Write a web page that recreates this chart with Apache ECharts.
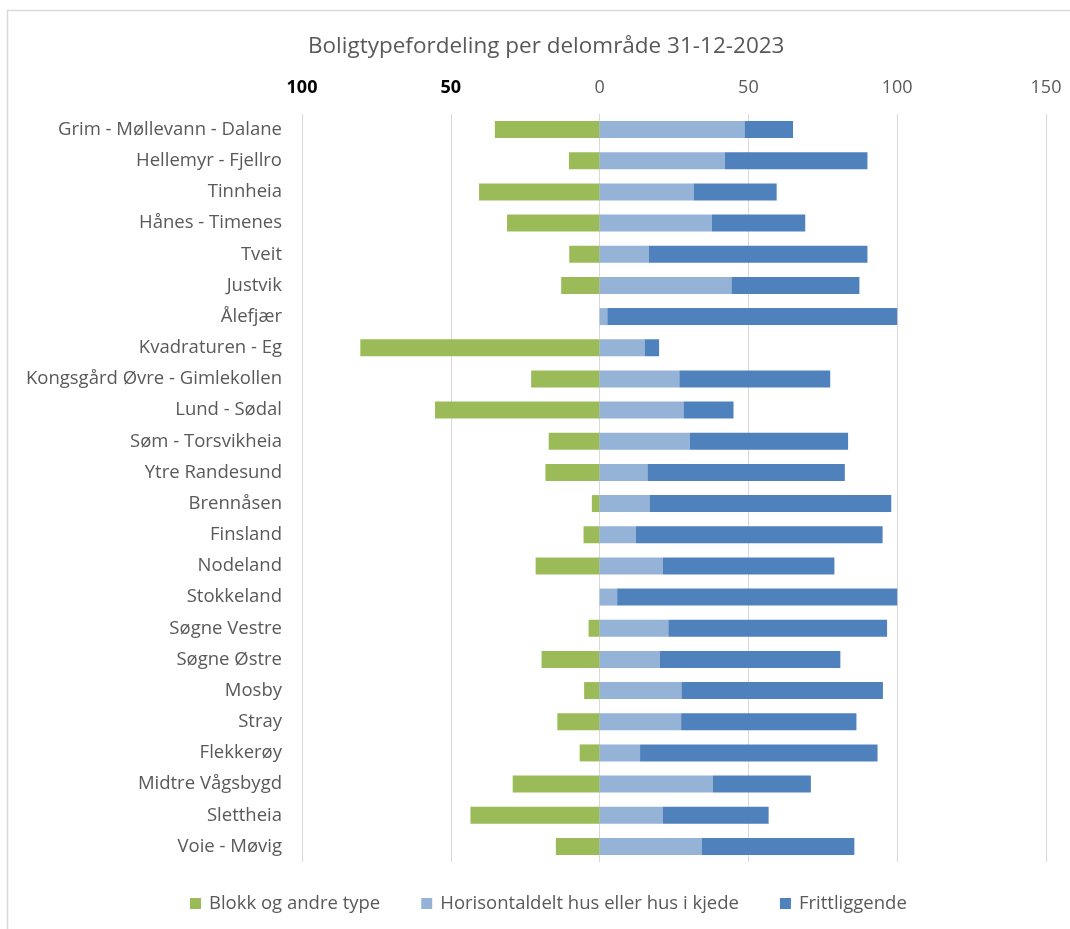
<!DOCTYPE html>
<html>
<head>
<meta charset="utf-8">
<script src="https://cdn.jsdelivr.net/npm/echarts@6/dist/echarts.min.js"></script>
<style>
html,body{margin:0;padding:0;background:#fff;}
#chart{width:1070px;height:929px;}
</style>
</head>
<body>
<div id="chart"></div>
<script>
const categories = [
  'Grim - Møllevann - Dalane', 'Hellemyr - Fjellro', 'Tinnheia', 'Hånes - Timenes',
  'Tveit', 'Justvik', 'Ålefjær', 'Kvadraturen - Eg', 'Kongsgård Øvre - Gimlekollen',
  'Lund - Sødal', 'Søm - Torsvikheia', 'Ytre Randesund', 'Brennåsen', 'Finsland',
  'Nodeland', 'Stokkeland', 'Søgne Vestre', 'Søgne Østre', 'Mosby', 'Stray',
  'Flekkerøy', 'Midtre Vågsbygd', 'Slettheia', 'Voie - Møvig'
];
const seriesNames = ['Blokk og andre type', 'Horisontaldelt hus eller hus i kjede', 'Frittliggende'];
// Blokk shown to the left of zero (negative values)
const blokk = [-35.2, -10.3, -40.5, -31.1, -10.2, -12.9, 0, -80.4, -23.0, -55.3, -17.1, -18.2,
  -2.6, -5.4, -21.5, 0, -3.7, -19.5, -5.2, -14.2, -6.7, -29.2, -43.4, -14.7];
const horisontal = [48.7, 42.1, 31.7, 37.7, 16.5, 44.3, 2.6, 15.1, 26.8, 28.2, 30.3, 16.1,
  16.8, 12.2, 21.3, 5.9, 23.1, 20.2, 27.5, 27.4, 13.6, 38.1, 21.3, 34.3];
const fritt = [16.3, 47.9, 27.8, 31.4, 73.5, 43.0, 97.4, 4.9, 50.7, 16.8, 53.2, 66.3,
  81.2, 82.9, 57.6, 94.1, 73.5, 60.7, 67.7, 58.9, 79.8, 32.9, 35.5, 51.3];
const xTicks = { min: -100, max: 150, interval: 50 };
const colors = ['#9BBB59', '#95B3D7', '#4F81BD'];

const FONT = 'Open Sans';
const chart = echarts.init(document.getElementById('chart'), null, { renderer: 'canvas' });
const mk = (name, data, color) => ({
  name, type: 'bar', stack: 'total', data, barWidth: 17,
  itemStyle: { color }, emphasis: { disabled: true }
});
chart.setOption({
  animation: false,
  backgroundColor: '#fff',
  textStyle: { fontFamily: FONT },
  graphic: [{
    type: 'rect', shape: { x: 7.5, y: 10.5, width: 1100, height: 960 },
    style: { fill: 'none', stroke: '#d9d9d9', lineWidth: 1.5 }, silent: true, z: -1
  }],
  title: {
    text: 'Boligtypefordeling per delområde 31-12-2023',
    left: 303, top: 30,
    textStyle: { fontFamily: FONT, fontSize: 22.5, fontWeight: 'normal', color: '#595959' }
  },
  legend: {
    bottom: 11, left: 185, itemWidth: 11, itemHeight: 11, itemGap: 41, icon: 'rect',
    textStyle: { fontFamily: FONT, fontSize: 18.5, color: '#595959', padding: [0, 0, 0, 3] },
    data: seriesNames
  },
  grid: { left: 302, right: 24, top: 114, bottom: 67, containLabel: false },
  xAxis: {
    type: 'value', position: 'top', min: xTicks.min, max: xTicks.max, interval: xTicks.interval,
    axisLine: { show: false }, axisTick: { show: false },
    splitLine: { lineStyle: { color: '#d9d9d9', width: 1 } },
    axisLabel: {
      margin: 17, fontFamily: FONT, fontSize: 18, color: '#595959',
      formatter: v => v < 0 ? '{neg|' + Math.abs(v) + '}' : String(v),
      rich: { neg: { fontFamily: FONT, fontSize: 18, fontWeight: 'bold', color: '#000' } }
    }
  },
  yAxis: {
    type: 'category', data: categories, inverse: true,
    axisLine: { show: false }, axisTick: { show: false },
    axisLabel: { margin: 20, fontFamily: FONT, fontSize: 18.5, color: '#595959' }
  },
  series: [
    mk(seriesNames[0], blokk, colors[0]),
    mk(seriesNames[1], horisontal, colors[1]),
    mk(seriesNames[2], fritt, colors[2])
  ]
});
</script>
</body>
</html>
